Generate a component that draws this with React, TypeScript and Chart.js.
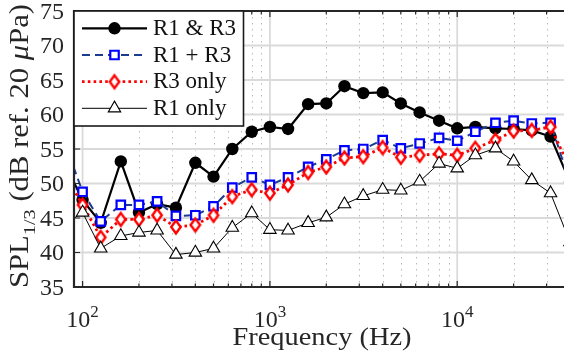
import React, { useEffect, useRef } from 'react';
import { Chart, registerables } from 'chart.js';

Chart.register(...registerables);

// ---------- data ----------
const frequencies = [80, 100, 125, 160, 200, 250, 315, 400, 500, 630, 800, 1000, 1250, 1600, 2000, 2500, 3150, 4000, 5000, 6300, 8000, 10000, 12500, 16000, 20000, 25000, 31500, 40000];
const r1AndR3 = [53.0, 47.6, 44.3, 53.2, 45.8, 47.0, 46.5, 53.0, 51.0, 55.0, 57.5, 58.2, 57.9, 61.5, 61.6, 64.1, 63.1, 63.2, 61.6, 60.3, 59.1, 58.0, 58.2, 58.0, 57.9, 57.7, 56.8, 50.2];
const r1PlusR3 = [56.0, 48.8, 44.5, 46.9, 46.9, 47.4, 45.3, 45.4, 46.7, 49.4, 50.9, 49.8, 50.9, 52.4, 53.5, 54.8, 55.0, 56.3, 55.1, 55.8, 56.6, 56.2, 57.5, 58.8, 59.1, 58.7, 58.8, 50.0];
const r3Only = [51.5, 46.9, 42.2, 44.8, 44.8, 45.4, 43.7, 44.0, 45.4, 48.1, 49.1, 48.6, 49.8, 51.6, 52.4, 53.7, 53.9, 55.2, 53.8, 54.1, 54.3, 54.1, 55.1, 56.3, 57.6, 57.7, 58.2, 52.2];
const r1Only = [44.0, 45.8, 40.6, 42.4, 42.9, 43.2, 39.7, 40.0, 40.6, 43.6, 45.7, 43.3, 43.2, 44.3, 45.1, 47.0, 48.2, 49.1, 49.0, 50.3, 52.9, 52.2, 54.1, 55.1, 53.2, 50.5, 48.6, 41.5];
const seriesLabels = ['R1 & R3', 'R1 + R3', 'R3 only', 'R1 only'];

const yTicks = [35, 40, 45, 50, 55, 60, 65, 70, 75];
const xMajorTicks = [100, 1000, 10000];
const xMajorExponents = ['2', '3', '4'];
const xMinorTicks = [200, 300, 400, 500, 600, 700, 800, 900, 2000, 3000, 4000, 5000, 6000, 7000, 8000, 9000, 20000, 30000];
const xTitle = 'Frequency (Hz)';

// ---------- styles ----------
const FONT = '"Liberation Serif", "Times New Roman", serif';
const TEXT = '#262626';
const AXIS = '#262626';
const BLUE_LINE = '#1b3b8e';

function makeDiamond(): HTMLCanvasElement {
  const c = document.createElement('canvas');
  c.width = 18;
  c.height = 22;
  const g = c.getContext('2d') as CanvasRenderingContext2D;
  g.beginPath();
  g.moveTo(9, 11 - 6.4);
  g.lineTo(9 + 4.7, 11);
  g.lineTo(9, 11 + 6.4);
  g.lineTo(9 - 4.7, 11);
  g.closePath();
  g.fillStyle = '#ffffff';
  g.fill();
  g.lineWidth = 2.4;
  g.lineJoin = 'miter';
  g.strokeStyle = '#ff0000';
  g.stroke();
  return c;
}

function font(size: number, italic?: boolean) {
  return `${italic ? 'italic ' : ''}${size}px ${FONT}`;
}

type Part = { text: string; size: number; dy?: number; italic?: boolean };

function measureParts(ctx: CanvasRenderingContext2D, parts: Part[]) {
  let w = 0;
  for (const p of parts) {
    ctx.font = font(p.size, p.italic);
    w += ctx.measureText(p.text).width;
  }
  return w;
}

function drawParts(ctx: CanvasRenderingContext2D, parts: Part[], x0: number, y0: number) {
  let x = x0;
  for (const p of parts) {
    ctx.font = font(p.size, p.italic);
    ctx.fillText(p.text, x, y0 + (p.dy || 0));
    x += ctx.measureText(p.text).width;
  }
}

export default function App() {
  const canvasRef = useRef<HTMLCanvasElement | null>(null);

  useEffect(() => {
    const canvas = canvasRef.current;
    if (!canvas) return;
    const diamond = makeDiamond();

    const toPoints = (vals: number[]) => frequencies.map((f, i) => ({ x: f, y: vals[i] }));

    const styles = [
      { color: '#000000', width: 2.2, dash: [] as number[], marker: 'circle' },
      { color: BLUE_LINE, width: 2, dash: [8, 5], marker: 'rect' },
      { color: '#ff0000', width: 2.8, dash: [2.6, 3.2], marker: 'diamond' },
      { color: '#000000', width: 1, dash: [] as number[], marker: 'triangle' },
    ];

    const drawMarker = (ctx: CanvasRenderingContext2D, kind: string, x: number, y: number) => {
      ctx.save();
      ctx.setLineDash([]);
      if (kind === 'circle') {
        ctx.beginPath();
        ctx.arc(x, y, 6.2, 0, Math.PI * 2);
        ctx.fillStyle = '#000';
        ctx.fill();
      } else if (kind === 'rect') {
        const h = 6 * Math.SQRT1_2;
        ctx.beginPath();
        ctx.rect(x - h, y - h, 2 * h, 2 * h);
        ctx.fillStyle = '#fff';
        ctx.fill();
        ctx.lineWidth = 2.2;
        ctx.strokeStyle = '#0000ff';
        ctx.stroke();
      } else if (kind === 'diamond') {
        ctx.drawImage(diamond, x - diamond.width / 2, y - diamond.height / 2);
      } else {
        const r = 7.2;
        ctx.beginPath();
        ctx.moveTo(x, y - r);
        ctx.lineTo(x + r * Math.sin((2 * Math.PI) / 3), y - r * Math.cos((2 * Math.PI) / 3));
        ctx.lineTo(x + r * Math.sin((4 * Math.PI) / 3), y - r * Math.cos((4 * Math.PI) / 3));
        ctx.closePath();
        ctx.fillStyle = '#fff';
        ctx.fill();
        ctx.lineWidth = 1.1;
        ctx.strokeStyle = '#000';
        ctx.stroke();
      }
      ctx.restore();
    };

    const decorPlugin = {
      id: 'decor',
      beforeDatasetsDraw(chart: any) {
        const { ctx, chartArea: a, scales } = chart;
        const xs = scales.x;
        const ys = scales.y;
        ctx.save();
        ctx.strokeStyle = '#b8b8b8';
        ctx.lineWidth = 1;
        ctx.setLineDash([1.5, 4.5]);
        for (const v of xMinorTicks) {
          const px = Math.round(xs.getPixelForValue(v)) + 0.5;
          ctx.beginPath();
          ctx.moveTo(px, a.top);
          ctx.lineTo(px, a.bottom);
          ctx.stroke();
        }
        ctx.setLineDash([]);
        ctx.strokeStyle = '#dadada';
        ctx.lineWidth = 1.8;
        for (const v of xMajorTicks) {
          const px = xs.getPixelForValue(v);
          ctx.beginPath();
          ctx.moveTo(px, a.top);
          ctx.lineTo(px, a.bottom);
          ctx.stroke();
        }
        for (const v of yTicks) {
          const py = ys.getPixelForValue(v);
          ctx.beginPath();
          ctx.moveTo(a.left, py);
          ctx.lineTo(a.right, py);
          ctx.stroke();
        }
        ctx.restore();
      },
      afterDraw(chart: any) {
        const { ctx, chartArea: a, scales } = chart;
        const xs = scales.x;
        const ys = scales.y;
        ctx.save();
        ctx.strokeStyle = AXIS;
        ctx.lineWidth = 1.2;
        for (const v of xMinorTicks) {
          const px = xs.getPixelForValue(v);
          ctx.beginPath();
          ctx.moveTo(px, a.bottom);
          ctx.lineTo(px, a.bottom - 3.5);
          ctx.moveTo(px, a.top);
          ctx.lineTo(px, a.top + 3.5);
          ctx.stroke();
        }
        for (const v of xMajorTicks) {
          const px = xs.getPixelForValue(v);
          ctx.beginPath();
          ctx.moveTo(px, a.bottom);
          ctx.lineTo(px, a.bottom - 6);
          ctx.moveTo(px, a.top);
          ctx.lineTo(px, a.top + 6);
          ctx.stroke();
        }
        for (const v of yTicks) {
          const py = ys.getPixelForValue(v);
          ctx.beginPath();
          ctx.moveTo(a.left, py);
          ctx.lineTo(a.left + 6, py);
          ctx.moveTo(a.right, py);
          ctx.lineTo(a.right - 6, py);
          ctx.stroke();
        }
        ctx.lineWidth = 2.2;
        ctx.strokeStyle = AXIS;
        ctx.beginPath();
        ctx.rect(a.left, a.top, a.right - a.left, a.bottom - a.top);
        ctx.stroke();

        ctx.fillStyle = TEXT;
        ctx.font = font(24);
        ctx.textAlign = 'right';
        ctx.textBaseline = 'middle';
        for (const v of yTicks) {
          ctx.fillText(String(v), 64, ys.getPixelForValue(v) + 1.5);
        }
        ctx.textAlign = 'left';
        ctx.textBaseline = 'alphabetic';
        xMajorTicks.forEach((v, i) => {
          const parts: Part[] = [
            { text: '10', size: 24 },
            { text: xMajorExponents[i], size: 17, dy: -10 },
          ];
          const w = measureParts(ctx, parts);
          drawParts(ctx, parts, xs.getPixelForValue(v) - w / 2, 327);
        });
        {
          const parts: Part[] = [{ text: xTitle, size: 25 }];
          const w = measureParts(ctx, parts);
          const target = 179;
          const s = target / w;
          const cx = (a.left + a.right) / 2;
          ctx.save();
          ctx.translate(cx - target / 2, 345);
          ctx.scale(s, 1);
          drawParts(ctx, parts, 0, 0);
          ctx.restore();
        }
        {
          const parts: Part[] = [
            { text: 'SPL', size: 26.5 },
            { text: '1/3', size: 17.5, dy: 7 },
            { text: ' (dB ref. 20 ', size: 26.5 },
            { text: 'μ', size: 26.5, italic: true },
            { text: 'Pa)', size: 26.5 },
          ];
          const w = measureParts(ctx, parts);
          const target = 284;
          const s = target / w;
          ctx.save();
          ctx.translate(27.5, 288);
          ctx.rotate(-Math.PI / 2);
          ctx.scale(s, 1);
          drawParts(ctx, parts, 0, 0);
          ctx.restore();
        }

        const lx0 = a.left;
        const ly0 = a.top;
        const lx1 = 243.5;
        const ly1 = 126;
        ctx.fillStyle = '#ffffff';
        ctx.fillRect(lx0, ly0, lx1 - lx0, ly1 - ly0);
        ctx.strokeStyle = '#1a1a1a';
        ctx.lineWidth = 1.6;
        ctx.strokeRect(lx0, ly0, lx1 - lx0, ly1 - ly0);
        const rows = [28.3, 55, 81.7, 108.3];
        styles.forEach((st, i) => {
          const y = rows[i];
          ctx.save();
          ctx.strokeStyle = st.color;
          ctx.lineWidth = st.width;
          ctx.setLineDash(st.dash);
          ctx.beginPath();
          ctx.moveTo(82, y);
          ctx.lineTo(147, y);
          ctx.stroke();
          ctx.restore();
          drawMarker(ctx, st.marker, 114.5, y);
          ctx.fillStyle = '#111';
          ctx.font = font(23);
          ctx.textAlign = 'left';
          ctx.textBaseline = 'alphabetic';
          ctx.fillText(seriesLabels[i], 153, y + 6.5);
        });
        ctx.restore();
      },
    };

    const chart = new Chart(canvas, {
      type: 'line',
      data: {
        datasets: [
          {
            label: seriesLabels[0],
            data: toPoints(r1AndR3),
            borderColor: '#000000',
            borderWidth: 2.2,
            pointStyle: 'circle',
            pointRadius: 6.2,
            pointBackgroundColor: '#000000',
            pointBorderColor: '#000000',
            pointBorderWidth: 0,
            order: 4,
            clip: 0,
          },
          {
            label: seriesLabels[1],
            data: toPoints(r1PlusR3),
            borderColor: BLUE_LINE,
            borderWidth: 2,
            borderDash: [8, 5],
            pointStyle: 'rect',
            pointRadius: 6,
            pointBackgroundColor: '#ffffff',
            pointBorderColor: '#0000ff',
            pointBorderWidth: 2.2,
            order: 3,
            clip: 0,
          },
          {
            label: seriesLabels[2],
            data: toPoints(r3Only),
            borderColor: '#ff0000',
            borderWidth: 2.8,
            borderDash: [2.6, 3.2],
            pointStyle: diamond,
            pointRadius: 7,
            order: 2,
            clip: 0,
          },
          {
            label: seriesLabels[3],
            data: toPoints(r1Only),
            borderColor: '#000000',
            borderWidth: 1,
            pointStyle: 'triangle',
            pointRadius: 7.2,
            pointBackgroundColor: '#ffffff',
            pointBorderColor: '#000000',
            pointBorderWidth: 1.1,
            order: 1,
            clip: 0,
          },
        ],
      } as any,
      options: {
        responsive: false,
        animation: false,
        devicePixelRatio: 1,
        events: [],
        layout: { autoPadding: false, padding: { top: 11, right: 2, left: 0, bottom: 0 } },
        plugins: {
          legend: { display: false },
          tooltip: { enabled: false },
          title: { display: false },
        },
        elements: { line: { tension: 0 } },
        scales: {
          x: {
            type: 'logarithmic',
            min: 90,
            max: 40000,
            grid: { display: false },
            border: { display: false },
            ticks: { display: false },
            afterFit: (s: any) => {
              s.height = 68;
            },
          },
          y: {
            type: 'linear',
            min: 35,
            max: 75,
            grid: { display: false },
            border: { display: false },
            ticks: { display: false },
            afterFit: (s: any) => {
              s.width = 74;
            },
          },
        },
      } as any,
      plugins: [decorPlugin],
    });

    return () => {
      chart.destroy();
    };
  }, []);

  return (
    <div
      style={{
        position: 'fixed',
        left: 0,
        top: 0,
        width: 564,
        height: 355,
        overflow: 'hidden',
        background: '#ffffff',
      }}
    >
      <canvas ref={canvasRef} width={572} height={355} style={{ display: 'block', width: 572, height: 355 }} />
    </div>
  );
}
